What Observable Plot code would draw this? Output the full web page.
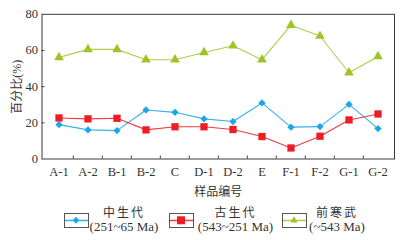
<!DOCTYPE html>
<html>
<head>
<meta charset="utf-8">
<script src="https://cdn.jsdelivr.net/npm/d3@7"></script>
<script src="https://cdn.jsdelivr.net/npm/@observablehq/plot@0.6"></script>
<style>
  html, body { margin: 0; padding: 0; background: #fff; }
  body { width: 415px; height: 240px; overflow: hidden; font-family: "Liberation Serif", "Noto Sans CJK SC", serif; color: #333; }
  #chart svg { display: block; }
  #legend { position: relative; width: 415px; height: 37px; }
  .item { position: absolute; top: 8px; height: 30px; }
  .item svg { position: absolute; top: 2px; left: 0; }
  .lab { position: absolute; top: -4px; text-align: center; font-size: 13px; line-height: 13px; white-space: nowrap; }
  .lab .n { letter-spacing: 2px; font-size: 12px; }
</style>
</head>
<body>
<div id="chart"></div>
<div id="legend"></div>
<script>
const categories = ["A-1","A-2","B-1","B-2","C","D-1","D-2","E","F-1","F-2","G-1","G-2"];
const mesozoic    = [19.0, 16.1, 15.7, 27.1, 25.8, 22.2, 20.7, 31.0, 17.6, 17.9, 30.2, 16.8];
const paleozoic   = [22.7, 22.2, 22.5, 16.1, 17.8, 17.8, 16.3, 12.4, 6.1, 12.6, 21.6, 24.9];
const precambrian = [56.2, 60.6, 60.6, 54.9, 54.9, 58.9, 62.6, 54.9, 74.0, 68.0, 47.7, 56.7];
const seriesNames = ["中生代", "古生代", "前寒武"];
const seriesRanges = ["(251~65 Ma)", "(543~251 Ma)", "(~543 Ma)"];
const yTicks = [0, 20, 40, 60, 80];

const FONT = '"Liberation Serif", "Noto Sans CJK SC", serif';
const colors = {"中生代": "#1ca6e6", "古生代": "#ee1c25", "前寒武": "#9fc42a"};
const lineColors = {"中生代": "#35b2ea", "古生代": "#f03a3f", "前寒武": "#acce4c"};
const symbols = {"中生代": "diamond2", "古生代": "square", "前寒武": "triangle"};
const radii = {"中生代": 3.3, "古生代": 4.1, "前寒武": 3.6};

const rows = [];
[mesozoic, paleozoic, precambrian].forEach((vals, i) => {
  vals.forEach((v, j) => rows.push({series: seriesNames[i], cat: categories[j], value: v}));
});

const W = 415, H = 203;
const mL = 41.5, mR = 21, mT = 13.8, mB = 44.5;
const step = (W - mL - mR) / categories.length;

const marks = [];
for (const s of seriesNames) {
  const d = rows.filter(r => r.series === s);
  marks.push(Plot.line(d, {x: "cat", y: "value", stroke: lineColors[s], strokeWidth: 1.1}));
}
for (const s of seriesNames) {
  const d = rows.filter(r => r.series === s);
  marks.push(Plot.dot(d, {x: "cat", y: "value", symbol: () => symbols[s], r: radii[s], fill: colors[s], stroke: "none"}));
}

const chart = Plot.plot({
  width: W, height: H,
  marginLeft: mL, marginRight: mR, marginTop: mT, marginBottom: mB,
  style: {fontFamily: FONT, fontSize: "12px", color: "#333", background: "#fff"},
  x: {type: "band", domain: categories, padding: 0, align: 0.5},
  y: {domain: [0, 80]},
  symbol: {type: "identity"},
  marks: [
    Plot.axisY({ticks: yTicks, tickSize: 0, tickPadding: 4, fill: "#333", fontSize: 12.5, label: null}),
    Plot.axisY({ticks: [20, 40, 60], tickSize: 3, dx: 3, tickFormat: () => "", stroke: "#444", label: null}),
    Plot.axisX({tickSize: 0, tickPadding: 8, fill: "#333", fontSize: 12.5, label: null}),
    Plot.axisX({ticks: categories.slice(1), tickSize: 3, dx: -step / 2, dy: -3, tickFormat: () => "", stroke: "#444", label: null}),
    Plot.text(["样品编号"], {frameAnchor: "bottom", dy: 33, fontSize: 12, fill: "#333", textAnchor: "middle", lineAnchor: "middle", text: d => d, style: "letter-spacing:3px"}),
    Plot.text(["百分比(%)"], {frameAnchor: "left", dx: -25, rotate: -90, textAnchor: "middle", lineAnchor: "middle", fontSize: 12, fill: "#333", text: d => d, style: "letter-spacing:2px"}),
    ...marks,
    Plot.frame({stroke: "#3a3a3a", strokeWidth: 1})
  ]
});
document.getElementById("chart").appendChild(chart);

// legend
const legend = document.getElementById("legend");
const legendPos = [{box: 64.3, lab: 124}, {box: 169.3, lab: 235.5}, {box: 282.3, lab: 337}];
seriesNames.forEach((s, i) => {
  const p = legendPos[i];
  const item = document.createElement("div");
  item.className = "item";
  item.style.left = p.box + "px";
  let mk = "";
  if (symbols[s] === "diamond2") mk = `<path d="M12,3.8L15.3,7.3L12,10.8L8.7,7.3Z" fill="${colors[s]}"/>`;
  else if (symbols[s] === "square") mk = `<rect x="8" y="3.3" width="8" height="8" fill="${colors[s]}"/>`;
  else mk = `<path d="M12,3.3L15.6,9.6L8.4,9.6Z" fill="${colors[s]}"/>`;
  item.innerHTML = `<svg width="25" height="15" viewBox="0 0 25 15"><rect x="0.5" y="0.5" width="24" height="14" fill="#fff" stroke="#555" stroke-width="1"/><line x1="1" x2="24" y1="7.5" y2="7.5" stroke="${lineColors[s]}" stroke-width="1.5"/>${mk}</svg>`;
  legend.appendChild(item);
  const lab = document.createElement("div");
  lab.className = "lab";
  lab.style.left = (p.lab - 50) + "px";
  lab.style.width = "100px";
  lab.style.top = "4px";
  lab.innerHTML = `<div class="n">${s}</div><div>${seriesRanges[i]}</div>`;
  legend.appendChild(lab);
});
</script>
</body>
</html>
